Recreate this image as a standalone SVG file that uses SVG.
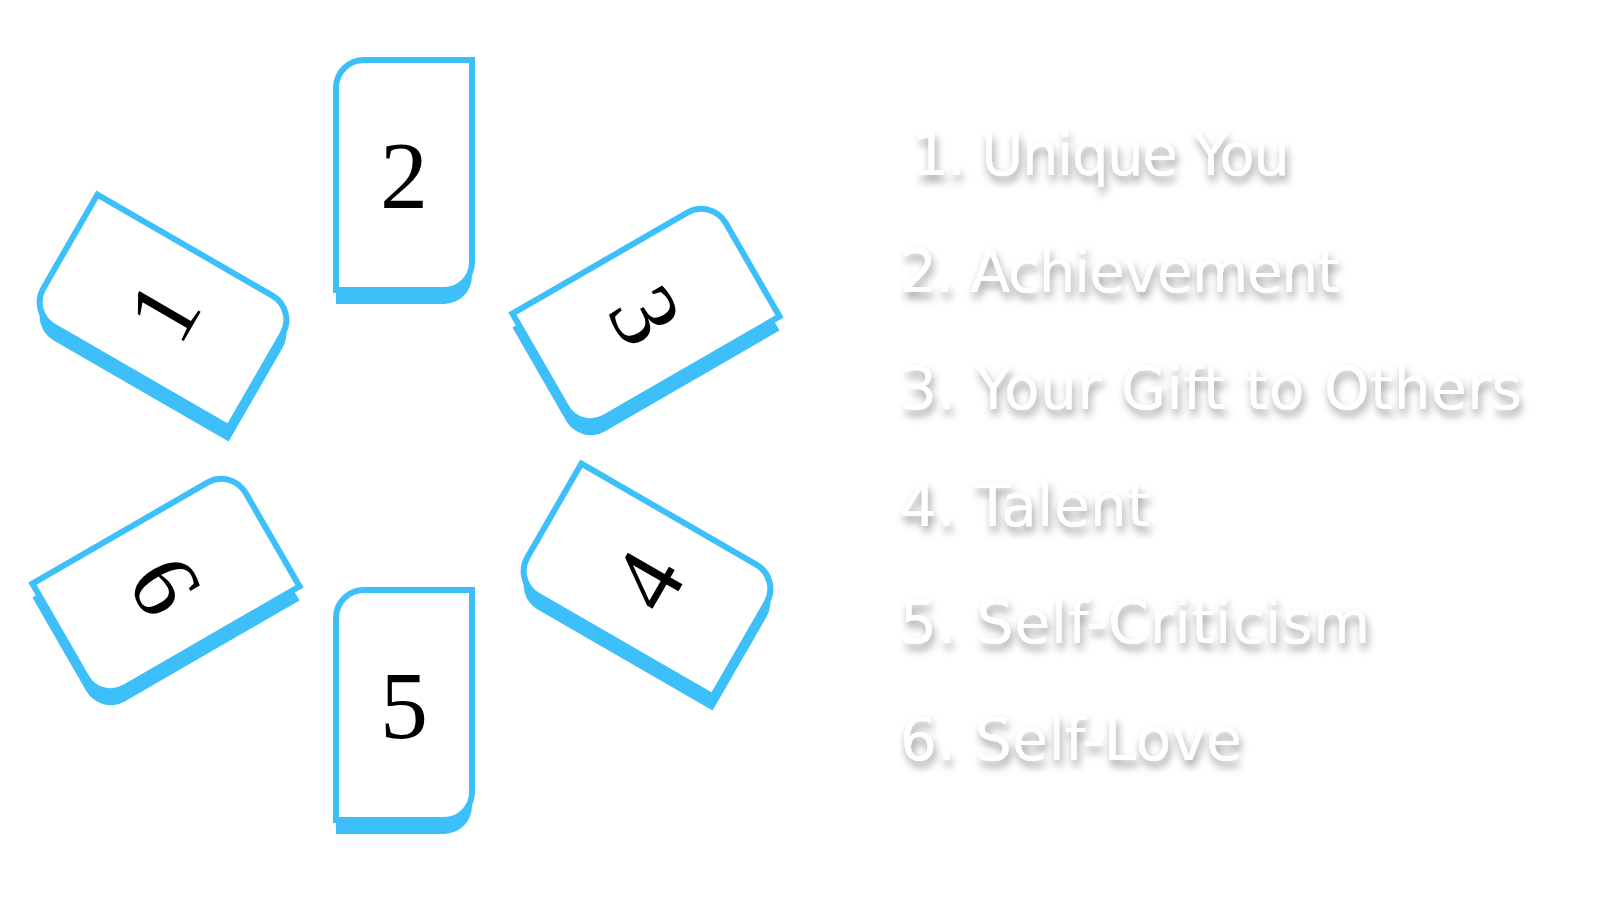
<svg xmlns="http://www.w3.org/2000/svg" xmlns:xlink="http://www.w3.org/1999/xlink" width="1600" height="900" viewBox="0 0 1600 900">
<style>
.sh{fill:#3dbffa}
.cd{fill:#fff;stroke:#3dbffa;stroke-width:6}
.num{font-family:"Liberation Serif",serif;font-size:96px;fill:#000;text-anchor:middle}
.lbl{font-family:"DejaVu Sans",sans-serif;font-size:58px;fill:#fff;filter:url(#ds)}
</style>
<defs>
<path id="card" d="M-68,-87 A28,28 0 0 1 -40,-115 H68 V87 A28,28 0 0 1 40,115 H-68 Z"/>
<filter id="ds" x="-10%" y="-30%" width="120%" height="170%">
<feDropShadow dx="2" dy="6" stdDeviation="4" flood-color="#000" flood-opacity="0.4"/>
</filter>
</defs>
<rect width="1600" height="900" fill="#fff"/>
<g id="connectors"/>
<g id="card1">
<use xlink:href="#card" class="sh" transform="translate(163,325) rotate(-60)"/>
<use xlink:href="#card" class="cd" transform="translate(163,311) rotate(-60)"/>
<text class="num" transform="translate(163,311) rotate(-60)" y="33">1</text>
</g>
<g id="card2">
<use xlink:href="#card" class="sh" transform="translate(404,189)"/>
<use xlink:href="#card" class="cd" transform="translate(404,175)"/>
<text class="num" x="404" y="208">2</text>
</g>
<g id="card3">
<use xlink:href="#card" class="sh" transform="translate(646,329) rotate(60)"/>
<use xlink:href="#card" class="cd" transform="translate(646,315) rotate(60)"/>
<text class="num" transform="translate(646,315) rotate(60)" y="33">3</text>
</g>
<g id="card4">
<use xlink:href="#card" class="sh" transform="translate(647,594) rotate(-60)"/>
<use xlink:href="#card" class="cd" transform="translate(647,580) rotate(-60)"/>
<text class="num" transform="translate(647,580) rotate(-60)" y="33">4</text>
</g>
<g id="card5">
<use xlink:href="#card" class="sh" transform="translate(404,719)"/>
<use xlink:href="#card" class="cd" transform="translate(404,705)"/>
<text class="num" x="404" y="738">5</text>
</g>
<g id="card6">
<use xlink:href="#card" class="sh" transform="translate(166,599) rotate(60)"/>
<use xlink:href="#card" class="cd" transform="translate(166,585) rotate(60)"/>
<text class="num" transform="translate(166,585) rotate(60)" y="33">6</text>
</g>
<g id="legend">
<text class="lbl" x="912" y="175" textLength="378" lengthAdjust="spacing">1. Unique You</text>
<text class="lbl" x="900" y="292" textLength="440" lengthAdjust="spacing">2. Achievement</text>
<text class="lbl" x="900" y="409" textLength="622" lengthAdjust="spacing">3. Your Gift to Others</text>
<text class="lbl" x="900" y="526" textLength="250" lengthAdjust="spacing">4. Talent</text>
<text class="lbl" x="900" y="643" textLength="470" lengthAdjust="spacing">5. Self-Criticism</text>
<text class="lbl" x="900" y="760" textLength="342" lengthAdjust="spacing">6. Self-Love</text>
</g>
</svg>
